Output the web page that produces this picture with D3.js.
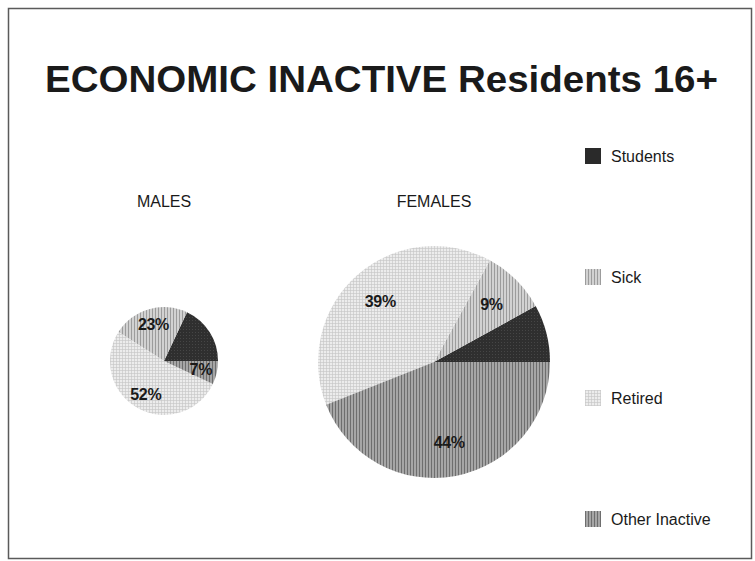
<!DOCTYPE html>
<html>
<head>
<meta charset="utf-8">
<script src="https://cdn.jsdelivr.net/npm/d3@7"></script>
<style>
  html, body { margin: 0; padding: 0; background: #ffffff; }
  svg { display: block; }
  text { font-family: "Liberation Sans", Arial, Helvetica, sans-serif; fill: #1a1a1a; }
</style>
</head>
<body>
<svg id="chart" width="755" height="561"></svg>
<script>
// ---- data ----
const title = "ECONOMIC INACTIVE Residents 16+";
const categories = ["Students", "Sick", "Retired", "Other Inactive"];
const groups = ["MALES", "FEMALES"];
const malesValues = [18, 23, 52, 7];
const femalesValues = [8, 9, 39, 44];
const labelShown = [false, true, true, true];

// ---- styles ----
const patternDefs = [
  { id: "p-students", base: "#2f2f2f", line: "#464646", kind: "dots" },
  { id: "p-sick",     base: "#d2d2d2", line: "#9c9c9c", kind: "vlines" },
  { id: "p-retired",  base: "#ececec", line: "#c4c4c4", kind: "grid" },
  { id: "p-other",    base: "#a6a6a6", line: "#6e6e6e", kind: "vlines" }
];

const svg = d3.select("#chart");
const defs = svg.append("defs");
patternDefs.forEach(p => {
  const pat = defs.append("pattern")
    .attr("id", p.id).attr("patternUnits", "userSpaceOnUse")
    .attr("width", 3).attr("height", 3);
  pat.append("rect").attr("width", 3).attr("height", 3).attr("fill", p.base);
  if (p.kind === "vlines") {
    pat.append("rect").attr("x", 0).attr("y", 0).attr("width", 1).attr("height", 3).attr("fill", p.line);
  } else if (p.kind === "grid") {
    pat.append("rect").attr("x", 0).attr("y", 0).attr("width", 1).attr("height", 3).attr("fill", p.line).attr("opacity", 0.6);
    pat.append("rect").attr("x", 0).attr("y", 0).attr("width", 3).attr("height", 1).attr("fill", p.line).attr("opacity", 0.6);
  } else {
    pat.append("rect").attr("x", 1).attr("y", 1).attr("width", 1).attr("height", 1).attr("fill", p.line);
  }
});
const fillFor = i => `url(#${patternDefs[i].id})`;

// frame
svg.append("rect")
  .attr("x", 8.5).attr("y", 8.5).attr("width", 743).attr("height", 550)
  .attr("fill", "none").attr("stroke", "#5a5a5a").attr("stroke-width", 1.5);

// title
svg.append("text")
  .attr("x", 45).attr("y", 92)
  .attr("textLength", 673).attr("lengthAdjust", "spacingAndGlyphs")
  .style("font-size", "36px").style("font-weight", "bold")
  .text(title);

// pies
const pieGen = d3.pie().sort(null).value(d => d)
  .startAngle(Math.PI / 2).endAngle(Math.PI / 2 - 2 * Math.PI);

const pies = [
  { name: groups[0], values: malesValues, cx: 164, cy: 361, r: 54, labelY: 207 },
  { name: groups[1], values: femalesValues, cx: 434, cy: 362, r: 116, labelY: 207 }
];

pies.forEach(p => {
  const g = svg.append("g").attr("transform", `translate(${p.cx},${p.cy})`);
  const arc = d3.arc().innerRadius(0).outerRadius(p.r);
  const labelArc = d3.arc().innerRadius(p.r * 0.7).outerRadius(p.r * 0.7);
  const arcs = pieGen(p.values);
  g.selectAll("path").data(arcs).enter().append("path")
    .attr("d", arc)
    .attr("fill", (d, i) => fillFor(i));
  g.selectAll("text.pct").data(arcs.filter((d, i) => labelShown[i])).enter().append("text")
    .attr("class", "pct")
    .attr("transform", d => `translate(${labelArc.centroid(d)})`)
    .attr("text-anchor", "middle").attr("dy", "0.36em")
    .style("font-size", "16px").style("font-weight", "bold")
    .style("letter-spacing", "-0.3px")
    .text(d => d.value + "%");
  svg.append("text")
    .attr("x", p.cx).attr("y", p.labelY)
    .attr("text-anchor", "middle")
    .style("font-size", "16px")
    .text(p.name);
});

// legend
const legendY = d3.scalePoint().domain(categories).range([156, 519]);
const lg = svg.append("g");
categories.forEach((c, i) => {
  lg.append("rect")
    .attr("x", 585).attr("y", legendY(c) - 8)
    .attr("width", 16).attr("height", 16)
    .attr("fill", i === 0 ? "#2a2a2a" : fillFor(i));
  lg.append("text")
    .attr("x", 611).attr("y", legendY(c)).attr("dy", "0.36em")
    .style("font-size", "16px")
    .text(c);
});
</script>
</body>
</html>
